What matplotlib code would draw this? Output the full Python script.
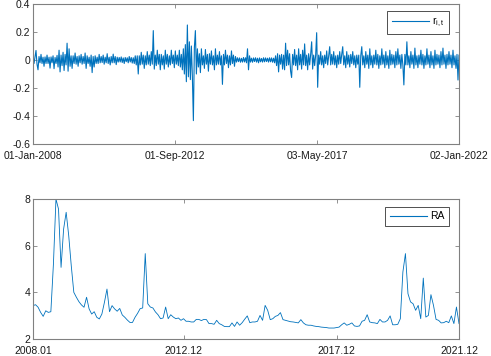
import numpy as np
import pandas as pd
import matplotlib
matplotlib.use("Agg")
import matplotlib.pyplot as plt

plt.rcParams['font.family'] = ['Liberation Sans', 'DejaVu Sans']
plt.rcParams['axes.unicode_minus'] = False
plt.rcParams['mathtext.fontset'] = 'custom'
plt.rcParams['mathtext.rm'] = 'Liberation Sans'
plt.rcParams['mathtext.it'] = 'Liberation Sans'

# ---- top panel: daily returns r_{i,t} ----
r_start = "2008-01-01"
r_end = "2022-01-02"
r_values = [
    .03, -.025, .02, .068, -.03, -.07, .025, -.02, .04, -.025, .02, -.045, .022, -.025, .035,
    -.025, .02, -.058, .022, -.02, .03, -.062, .018, -.025, .033,
    -.05, .07, -.085, .035, -.04, .055, -.075, .04, -.035,
    .12,
    -.08, .08, -.045, .03, -.06,
    .03, -.025, .05, -.03, .025, -.045, .03, -.02, .04, -.03, .025, -.025, .05, -.06, .03,
    -.025, .02, -.045, .035, -.09, .025, -.05, .03, -.025, .02,
    -.025, .04, -.02, .025, -.018, .035, -.03, .02, -.02, .045, -.025, .02, -.035, .025, -.02,
    .042, -.02, .025, -.033, .02,
    -.015, .018, -.014, .022, -.018, .015, -.025, .018, -.012, .016, -.02, .025, -.014, .018,
    -.022, .016, -.025, .03, -.035,
    .03, -.1, .03, -.035, .055, -.03, .035, -.06, .03, -.035, .06, -.03,
    .035, -.04, .06, -.03, .21, -.065, .035, -.04, .07, -.03, .04, -.07, .04, -.035, .03,
    -.065, .07, -.03, .04, -.05,
    .03, -.035, .07, -.025, .035, -.055, .065, -.03, .035, -.04, .07, -.05, .04, -.07,
    .08, -.1, .11, -.155, .25, -.12, .13, -.14, .1, -.12, -.433, .09, .21, -.1, .08,
    -.05, .045, -.09, .08, -.035, .03, -.06, .075, -.03, .04, -.08, .045, -.03, .065, -.035,
    .03, -.07, .08, -.035,
    .035, -.03, .06, -.035, .03, -.174, .04, -.035, .07, -.025, .035, -.055, .03, -.035, .065,
    -.025, .035, -.045, .025,
    -.015, .016, -.012, .015, -.016, .012, -.015, .018, -.014, .016, -.02,
    .08, -.07, .03,
    -.015, .013, -.016, .015, -.011, .016, -.015, .013, -.02, .015, -.013, .011, -.015, .016,
    -.013, .015, -.011, .013, -.015, .016, -.013, .015, -.016, .013, -.02,
    .03, -.04, .045, -.085, .035, -.03,
    .04, -.065, .035, -.07, .12, -.04, .07, -.035, .045, -.08, -.125, .04, -.035, .075, -.04,
    .035, -.07, .08, -.035, .04, -.065, .07, -.035, .115, -.04, .035, -.07, .045, -.035, .04,
    .13, -.065, .035, -.04, .035,
    .195, -.195,
    .035, -.03, .06, -.035, .03, -.055, .035, -.025, .065, -.035, .03, .095, -.035, .04, -.03,
    .06, -.035, .03, -.055, .035, -.03, .06, -.025, .04, .095, -.035, .03, -.055, .06, -.03,
    .035, -.05, .04, -.025, .06, -.035, .03, -.055, .035, -.03,
    .035, -.195, .03, .095,
    -.035, .03, -.055, .06, -.03, .035, -.06, .08, -.035, .03, -.055, .035, -.03, .07, -.035,
    .04, -.06, .03, -.035, .08, -.03, .035, -.055, .06, -.035, .03, -.06, .07, -.035, .04,
    -.03, .035, -.055, .06, -.035, .08, -.03, .035, -.06, .04, -.035,
    -.178, .04, -.035, .13,
    -.035, .03, -.055, .06, -.03, .035, -.06, .085, -.035, .03, -.055, .035, -.03, .07, -.035,
    .04, -.06, .03, -.035, .08, -.03, .035, -.055, .06, -.035, .03, -.06, .07, -.035, .04,
    -.03, .035, -.055, .06, -.035, .085, -.03, .035, -.06, .04, -.035, .06, -.03, .035, -.055,
    .07, -.035, .03, -.06,
    .04, -.143, .035,
]
r_ticklabels = ["01-Jan-2008", "01-Sep-2012", "03-May-2017", "02-Jan-2022"]
r_yticks = [-0.6, -0.4, -0.2, 0, 0.2, 0.4]
r_yticklabels = ["-0.6", "-0.4", "-0.2", "0", "0.2", "0.4"]

# ---- bottom panel: monthly RA, 2008.01 - 2021.12 ----
ra_values = [
    3.43, 3.47, 3.36, 3.14, 2.97, 3.21, 3.14, 3.17, 5.2, 8.0, 7.57, 5.07,
    6.71, 7.43, 6.43, 5.14, 4.0, 3.79, 3.6, 3.46, 3.36, 3.79, 3.29, 3.07,
    3.17, 2.93, 2.86, 3.07, 3.57, 4.14, 3.17, 3.43, 3.29, 3.19, 3.31, 3.03,
    2.93, 2.81, 2.71, 2.71, 2.93, 3.1, 3.3, 3.33, 5.66, 3.51, 3.37, 3.33,
    3.16, 3.04, 2.87, 2.9, 3.37, 2.87, 3.04, 2.94, 2.87, 2.9, 2.8, 2.87,
    2.76, 2.76, 2.73, 2.73, 2.84, 2.84, 2.79, 2.84, 2.83, 2.66, 2.66, 2.63,
    2.8, 2.66, 2.61, 2.54, 2.53, 2.53, 2.69, 2.54, 2.73, 2.59, 2.7, 2.85,
    2.99, 2.7, 2.73, 2.73, 2.76, 3.01, 2.8, 3.44, 3.23, 2.83, 2.87, 2.97,
    3.01, 3.13, 2.83, 2.8, 2.77, 2.74, 2.73, 2.71, 2.69, 2.83, 2.69, 2.61,
    2.59, 2.59, 2.56, 2.54, 2.53, 2.51, 2.5, 2.49, 2.47, 2.47, 2.47, 2.49,
    2.51, 2.61, 2.69, 2.59, 2.63, 2.69, 2.56, 2.54, 2.56, 2.76, 2.8, 3.04,
    2.73, 2.7, 2.69, 2.66, 2.84, 2.73, 2.73, 2.8, 2.99, 2.61, 2.61, 2.63,
    2.87, 4.87, 5.66, 3.94, 3.59, 3.51, 3.23, 3.44, 2.87, 4.61, 2.94, 3.01,
    3.9, 3.44, 2.84, 2.8, 2.69, 2.7, 2.76, 2.7, 2.99, 2.66, 3.37, 2.66,
]
ra_start_year = 2008
ra_ticklabels = ["2008.01", "2012.12", "2017.12", "2021.12"]
ra_yticks = [2, 4, 6, 8]

line_color = "#0072BD"
frame_color = "#808080"
fs = 7.5

fig = plt.figure(figsize=(4.91, 3.56), dpi=100)
W, H = 491, 356
ax1 = fig.add_axes([33 / W, 1 - 144 / H, 426 / W, 140 / H])
ax2 = fig.add_axes([33 / W, 1 - 339 / H, 426 / W, 140 / H])

# top panel
dates = pd.date_range(r_start, r_end, periods=len(r_values))
ax1.plot(dates, r_values, color=line_color, lw=0.8, label=r"r$_{\mathrm{i,t}}$")
ax1.set_xlim(dates[0], dates[-1])
ax1.set_ylim(-0.6, 0.4)
ax1.set_yticks(r_yticks)
ax1.set_yticklabels(r_yticklabels)
ax1.set_xticks(pd.to_datetime(r_ticklabels, format="%d-%b-%Y"))
ax1.set_xticklabels(r_ticklabels)

# bottom panel
months = np.arange(len(ra_values))
ax2.plot(months, ra_values, color=line_color, lw=0.6, label="RA")
ax2.set_xlim(months[0], months[-1])
ax2.set_ylim(2, 8)
ax2.set_yticks(ra_yticks)
ra_tickpos = [(int(s.split(".")[0]) - ra_start_year) * 12 + int(s.split(".")[1]) - 1 for s in ra_ticklabels]
ax2.set_xticks(ra_tickpos)
ax2.set_xticklabels(ra_ticklabels)

for ax in (ax1, ax2):
    for sp in ax.spines.values():
        sp.set_color(frame_color)
        sp.set_linewidth(0.8)
    ax.tick_params(direction="in", length=3, width=0.6, color=frame_color,
                   labelsize=fs, labelcolor="#1a1a1a", top=True, right=True)
    ax.tick_params(axis="x", pad=5)
    ax.tick_params(axis="y", pad=2)

leg_kw = dict(loc="upper right", borderaxespad=0, fontsize=fs, handlelength=3.5,
              handletextpad=0.3, borderpad=0.45, fancybox=False, framealpha=1,
              edgecolor="#333333")
l1 = ax1.legend(bbox_to_anchor=(0.9758, 0.95), **leg_kw)
l2 = ax2.legend(bbox_to_anchor=(0.9758, 0.945), **leg_kw)
for l in (l1, l2):
    l.get_frame().set_linewidth(0.6)
    for h in l.get_lines():
        h.set_linewidth(0.8)
        h.set_color(line_color)

fig.savefig("out.png", dpi=100)
